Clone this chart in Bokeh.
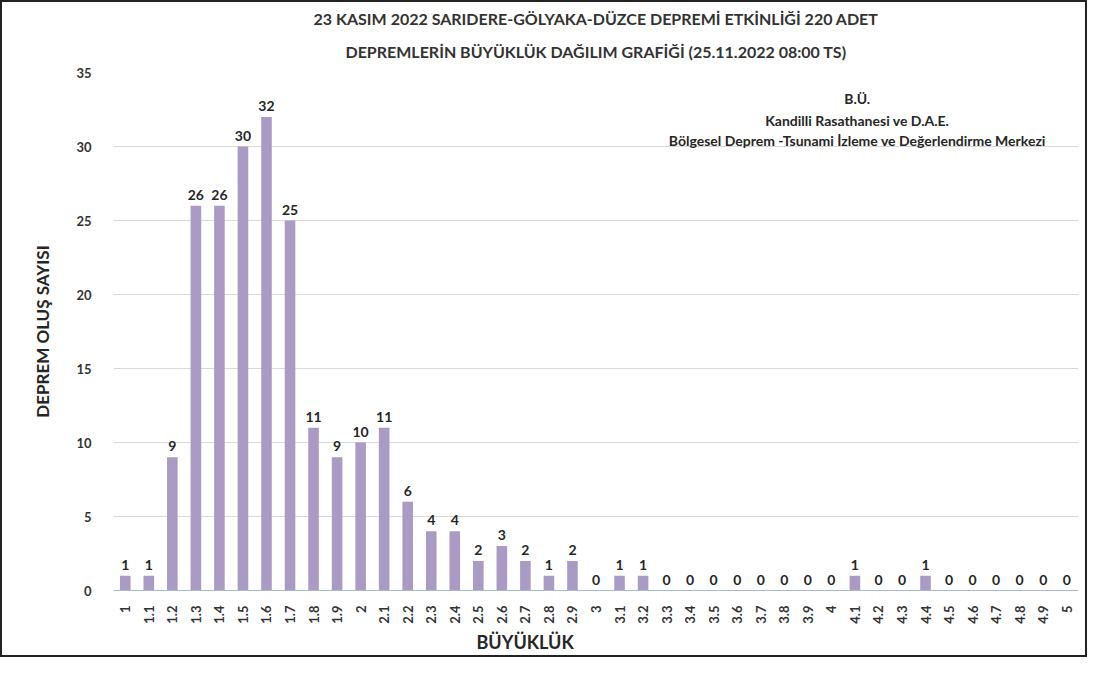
from math import pi
from bokeh.plotting import figure
from bokeh.layouts import column
from bokeh.models import ColumnDataSource, Title, Label, LabelSet, FactorRange, FixedTicker
from bokeh.core.properties import value
from bokeh.embed import file_html
from bokeh.resources import INLINE

magnitudes = ["1", "1.1", "1.2", "1.3", "1.4", "1.5", "1.6", "1.7", "1.8", "1.9",
              "2", "2.1", "2.2", "2.3", "2.4", "2.5", "2.6", "2.7", "2.8", "2.9",
              "3", "3.1", "3.2", "3.3", "3.4", "3.5", "3.6", "3.7", "3.8", "3.9",
              "4", "4.1", "4.2", "4.3", "4.4", "4.5", "4.6", "4.7", "4.8", "4.9", "5"]
counts = [1, 1, 9, 26, 26, 30, 32, 25, 11, 9,
          10, 11, 6, 4, 4, 2, 3, 2, 1, 2,
          0, 1, 1, 0, 0, 0, 0, 0, 0, 0,
          0, 1, 0, 0, 1, 0, 0, 0, 0, 0, 0]
y_ticks = [0, 5, 10, 15, 20, 25, 30, 35]

title_line1 = "23 KASIM 2022 SARIDERE-GÖLYAKA-DÜZCE DEPREMİ ETKİNLİĞİ 220 ADET"
title_line2 = "DEPREMLERİN BÜYÜKLÜK DAĞILIM GRAFİĞİ (25.11.2022 08:00 TS)"
note_lines = ["B.Ü.", "Kandilli Rasathanesi ve D.A.E.",
              "Bölgesel Deprem -Tsunami İzleme ve Değerlendirme Merkezi"]
x_title = "BÜYÜKLÜK"
y_title = "DEPREM OLUŞ SAYISI"

FONT = "Lato"
TXT = "#333333"

src = ColumnDataSource(dict(mag=magnitudes, cnt=counts, lbl=[str(c) for c in counts]))

p = figure(width=1083, height=653, x_range=FactorRange(*magnitudes, range_padding=0),
           y_range=(0, 35), output_backend="svg", toolbar_location=None,
           title=None, min_border_left=111, min_border_right=7,
           min_border_top=70, min_border_bottom=65)

p.vbar(x="mag", top="cnt", width=0.45, source=src, fill_color="#a99bc4",
       line_color=None)

labels = LabelSet(x="mag", y="cnt", text="lbl", source=src, y_offset=6,
                  text_align="center", text_baseline="bottom",
                  text_font=value(FONT), text_font_style="bold", text_font_size="14px",
                  text_color="#262626")
p.add_layout(labels)

t2 = Title(text=title_line2, align="center", text_font=FONT, text_font_style="bold",
           text_font_size="16px", text_color=TXT, standoff=24)
t1 = Title(text=title_line1, align="center", text_font=FONT, text_font_style="bold",
           text_font_size="16px", text_color=TXT, standoff=0)
p.add_layout(t2, "above")
p.add_layout(t1, "above")

ys = [33.25, 31.75, 30.4]
for txt, yy in zip(note_lines, ys):
    p.add_layout(Label(x=31.6, y=yy, text=txt, text_align="center",
                       text_baseline="middle", text_font=FONT,
                       text_font_style="bold", text_font_size="14px",
                       text_color="#262626"))

tx = Title(text=x_title, align="left", offset=363, text_font=FONT,
           text_font_style="bold", text_font_size="18px", text_color="#262626",
           standoff=4)
p.add_layout(tx, "below")

p.xgrid.grid_line_color = None
p.ygrid.grid_line_color = "#d9d9d9"
p.ygrid.ticker = FixedTicker(ticks=y_ticks)
p.yaxis.ticker = FixedTicker(ticks=y_ticks)

p.yaxis.axis_line_color = None
p.yaxis.major_tick_line_color = None
p.yaxis.minor_tick_line_color = None
p.yaxis.major_label_text_font = FONT
p.yaxis.major_label_text_font_style = "bold"
p.yaxis.major_label_text_font_size = "13px"
p.yaxis.major_label_text_color = TXT
p.yaxis.major_label_standoff = 16
p.yaxis.axis_label = y_title
p.yaxis.axis_label_text_font = FONT
p.yaxis.axis_label_text_font_style = "bold"
p.yaxis.axis_label_text_font_size = "17px"
p.yaxis.axis_label_text_color = "#262626"
p.yaxis.axis_label_standoff = 20

p.xaxis.axis_line_color = "#a9b8cf"
p.xaxis.major_tick_line_color = None
p.xaxis.minor_tick_line_color = None
p.xaxis.major_label_orientation = pi / 2
p.xaxis.major_label_text_font = FONT
p.xaxis.major_label_text_font_style = "bold"
p.xaxis.major_label_text_font_size = "13px"
p.xaxis.major_label_text_color = TXT
p.xaxis.major_label_standoff = 9

p.outline_line_color = None
p.border_fill_color = "white"
p.background_fill_color = "white"

layout = column(p, styles={"border": "2px solid #222222"})

open("out.html", "w").write(file_html(layout, INLINE))
